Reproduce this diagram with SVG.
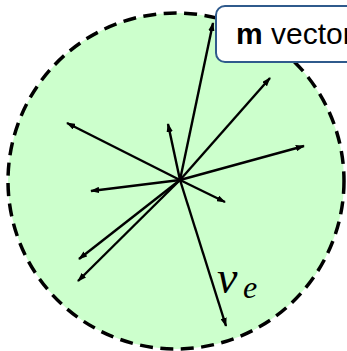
<svg xmlns="http://www.w3.org/2000/svg" width="347" height="351" viewBox="0 0 347 351">
<defs>
<style>
.v{stroke:#000;stroke-width:2.4;fill:none;marker-end:url(#ah)}
.lbl{font-family:"Liberation Sans",Arial,sans-serif;font-size:30px;fill:#000}
.math{font-family:"Liberation Serif","Times New Roman",serif;font-style:italic;fill:#000}
</style>
<marker id="ah" viewBox="0 0 10 7" refX="9" refY="3.5" markerWidth="3.8" markerHeight="2.66" orient="auto" markerUnits="strokeWidth">
<path d="M0,0 L10,3.5 L0,7 Z" fill="#000"/>
</marker>
</defs>
<g id="region">
<circle cx="176" cy="181" r="168" fill="#ccffcc" stroke="#000" stroke-width="3.5" stroke-dasharray="13,7.5"/>
</g>
<g id="connectors">
<line class="v" x1="180" y1="180" x2="213" y2="23"/>
<line class="v" x1="180" y1="180" x2="270" y2="78"/>
<line class="v" x1="180" y1="180" x2="304" y2="146"/>
<line class="v" x1="180" y1="180" x2="225" y2="202"/>
<line class="v" x1="180" y1="180" x2="226" y2="326"/>
<line class="v" x1="180" y1="180" x2="79" y2="259"/>
<line class="v" x1="180" y1="180" x2="78" y2="281"/>
<line class="v" x1="180" y1="180" x2="91" y2="191"/>
<line class="v" x1="180" y1="180" x2="67" y2="123"/>
<line class="v" x1="180" y1="180" x2="168" y2="124"/>
</g>
<g id="ve-label">
<text class="math" x="217" y="293" font-size="46">v</text>
<text class="math" x="243" y="298" font-size="32">e</text>
</g>
<g id="m-vector">
<rect x="216" y="6" width="150" height="56" rx="9" fill="#fff" stroke="#2f5a8c" stroke-width="2"/>
<text class="lbl" x="236" y="44"><tspan font-weight="bold">m</tspan> vector</text>
</g>
</svg>
